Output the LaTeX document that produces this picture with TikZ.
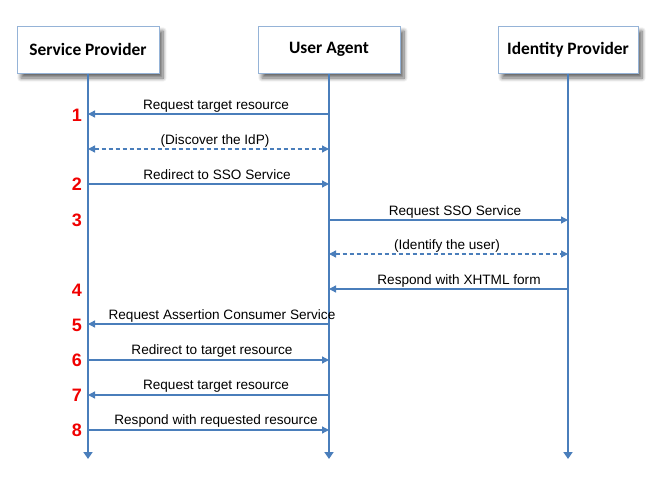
\documentclass[tikz,border=0pt]{standalone}
\usepackage{fontspec}
\setmainfont{Liberation Sans}
\newfontfamily\boxfont{Carlito}
\usetikzlibrary{arrows.meta,shadows.blur}
\definecolor{lineblue}{RGB}{74,126,187}
\definecolor{boxblue}{RGB}{149,179,215}
\definecolor{numred}{RGB}{240,0,0}
\begin{document}
\begin{tikzpicture}[x=1pt,y=-1pt,
  actor/.style={draw=boxblue, line width=1pt, fill=white, minimum width=142pt, minimum height=47pt, inner sep=0pt,
    font=\boxfont\bfseries\fontsize{17.4}{20}\selectfont,
    blur shadow={shadow xshift=4pt, shadow yshift=-5pt, shadow blur steps=8, shadow blur radius=4pt, shadow opacity=60}},
  life/.style={draw=lineblue, line width=2pt, -{Triangle[length=7pt,width=9pt]}},
  msg/.style={draw=lineblue, line width=1.3pt, -{Triangle[length=7pt,width=7pt]}},
  dmsg/.style={draw=lineblue, line width=1.3pt, dash pattern=on 4pt off 3pt, {Triangle[length=7pt,width=7pt]}-{Triangle[length=7pt,width=7pt]}},
  lbl/.style={anchor=base, inner sep=0pt, font=\fontsize{13.6}{16}\selectfont},
  num/.style={inner sep=0pt, text=numred, font=\bfseries\fontsize{18}{20}\selectfont}]
\useasboundingbox (0,0) rectangle (646,493);
% actors
\node[actor] (sp) at (88,49.5) {Service Provider};
\node[actor] (ua) at (329,49.5) {User Agent};
\node[actor, minimum width=140pt] (idp) at (568,49.5) {Identity Provider};
% lifeline ends
\coordinate (spe) at (88,459);
\coordinate (uae) at (329,459);
\coordinate (idpe) at (568,459);
\draw[life] (sp.south) -- (spe);
\draw[life] (ua.south) -- (uae);
\draw[life] (idp.south) -- (idpe);
% message points
\foreach \n/\y in {1/114,2/149,3/184,4/220,5/254,6/289,7/324,8/360,9/395,10/430}{
  \coordinate (s\n) at (88,\y);
  \coordinate (u\n) at (329,\y);
  \coordinate (i\n) at (568,\y);
}
\draw[msg] (u1) -- (s1);
\draw[dmsg] (s2) -- (u2);
\draw[msg] (s3) -- (u3);
\draw[msg] (u4) -- (i4);
\draw[dmsg] (u5) -- (i5);
\draw[msg] (i6) -- (u6);
\draw[msg] (u7) -- (s7);
\draw[msg] (s8) -- (u8);
\draw[msg] (u9) -- (s9);
\draw[msg] (s10) -- (u10);
% labels
\node[lbl] (t1) at (216,109) {Request target resource};
\node[lbl] (t2) at (215,144) {(Discover the IdP)};
\node[lbl] (t3) at (217,179) {Redirect to SSO Service};
\node[lbl] (t4) at (455,215) {Request SSO Service};
\node[lbl] (t5) at (447,249) {(Identify the user)};
\node[lbl] (t6) at (459,284) {Respond with XHTML form};
\node[lbl] (t7) at (222,319) {Request Assertion Consumer Service};
\node[lbl] (t8) at (212,354) {Redirect to target resource};
\node[lbl] (t9) at (216,389) {Request target resource};
\node[lbl] (t10) at (216,424) {Respond with requested resource};
% numbers
\node[num] (n1) at (77,115) {1};
\node[num] (n2) at (77,184) {2};
\node[num] (n3) at (77,220) {3};
\node[num] (n4) at (77,290) {4};
\node[num] (n5) at (77,325) {5};
\node[num] (n6) at (77,360) {6};
\node[num] (n7) at (77,395) {7};
\node[num] (n8) at (77,430) {8};
\end{tikzpicture}
\end{document}
